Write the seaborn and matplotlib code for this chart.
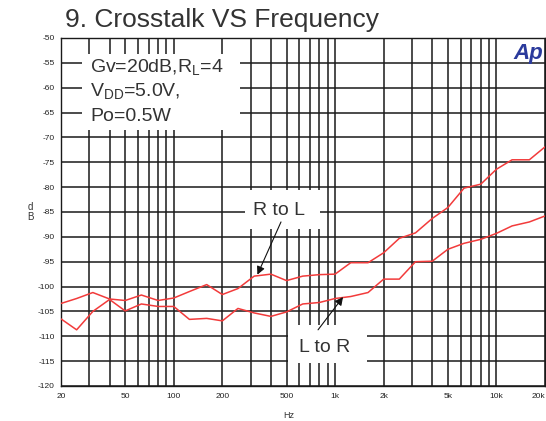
import numpy as np
import pandas as pd
import seaborn as sns
import matplotlib.pyplot as plt
from matplotlib.patches import Rectangle
from matplotlib.ticker import FixedLocator, NullFormatter

# --- dados ---
freq = [20, 25, 31.5, 40, 50, 63, 80, 100, 125, 160, 200, 250, 315, 400, 500, 630,
        800, 1000, 1250, 1600, 2000, 2500, 3150, 4000, 5000, 6300, 8000, 10000,
        12500, 16000, 20000]
r_to_l = [-103.4, -102.4, -101.2, -102.5, -102.8, -101.7, -102.8, -102.3, -101.0, -99.6,
          -101.6, -100.4, -97.9, -97.5, -98.8, -97.9, -97.6, -97.5, -95.2, -95.2, -93.2,
          -90.3, -89.2, -86.3, -84.1, -80.2, -79.4, -76.4, -74.5, -74.5, -71.9]
l_to_r = [-106.5, -108.7, -105.0, -102.6, -104.9, -103.5, -104.0, -104.0, -106.6, -106.4,
          -106.9, -104.4, -105.3, -106.0, -105.1, -103.5, -103.2, -102.4, -102.0, -101.2,
          -98.5, -98.5, -95.0, -94.9, -92.5, -91.3, -90.5, -89.3, -87.8, -87.0, -85.8]

x_labels = {20: "20", 50: "50", 100: "100", 200: "200", 500: "500", 1000: "1k",
            2000: "2k", 5000: "5k", 10000: "10k", 20000: "20k"}
y_ticks = list(range(-120, -45, 5))

df = pd.concat([
    pd.DataFrame({"Hz": freq, "dB": r_to_l, "serie": "R to L"}),
    pd.DataFrame({"Hz": freq, "dB": l_to_r, "serie": "L to R"}),
])

sns.set_style("white")
plt.rcParams['font.family'] = ['Liberation Sans', 'DejaVu Sans']
plt.rcParams['axes.unicode_minus'] = False

fig = plt.figure(figsize=(5.46, 4.21), dpi=100)
ax = fig.add_axes([61 / 546, 1 - 386 / 421, 484 / 546, 348 / 421])
ax.set_xscale('log')
ax.set_axisbelow(True)

sns.lineplot(data=df, x="Hz", y="dB", hue="serie", palette=["#f23b3b", "#f23b3b"],
             linewidth=1.1, legend=False, ax=ax, zorder=3)

# grade log: todas as linhas 2..9 de cada década
grid_x = [m * 10 ** e for e in range(1, 5) for m in range(1, 10) if 20 <= m * 10 ** e <= 20000]
ax.xaxis.set_major_locator(FixedLocator(grid_x))
ax.set_xticklabels([x_labels.get(round(v), "") for v in grid_x])
ax.xaxis.set_minor_formatter(NullFormatter())
ax.set_xlim(20, 20000)
ax.set_ylim(-120, -50)
ax.set_yticks(y_ticks)
ax.set_yticklabels([str(v) for v in y_ticks])
ax.set_yticks(range(-120, -49), minor=True)
ax.grid(True, which='major', color='#1a1a1a', linewidth=1.1)

ax.tick_params(axis='x', length=0, labelsize=6, colors='#222', pad=5)
ax.tick_params(axis='y', which='major', length=4, direction='out', labelsize=6,
               colors='#222', pad=0.5)
ax.tick_params(axis='y', which='minor', length=4, direction='inout', color='#222', width=0.7)
ax.tick_params(axis='x', which='minor', length=0)
ax.get_xticklabels()[-1].set_ha('right')
for s in ax.spines.values():
    s.set_color('#1a1a1a')
    s.set_linewidth(1.0)
ax.set_xlabel("")
ax.set_ylabel("")

# caixas brancas que escondem a grade
for x0, x1, y0, y1 in [(0.043, 0.370, 0.736, 0.954),
                       (0.380, 0.535, 0.451, 0.563),
                       (0.469, 0.632, 0.066, 0.175)]:
    ax.add_patch(Rectangle((x0, y0), x1 - x0, y1 - y0, transform=ax.transAxes,
                           facecolor='white', edgecolor='none', zorder=1))

txt = dict(transform=ax.transAxes, fontsize=14, color='#333333', va='center', zorder=4)
ax.text(0.060, 0.914, r"Gv=20dB,R$_\mathregular{L}$=4", **txt)
ax.text(0.060, 0.845, r"V$_\mathregular{DD}$=5.0V,", **txt)
ax.text(0.060, 0.773, "Po=0.5W", **txt)
ax.text(0.450, 0.503, "R to L", ha='center', **txt)
ax.text(0.545, 0.112, "L to R", ha='center', **txt)

arrow = dict(arrowstyle='-|>', color='#111', lw=0.8, mutation_scale=12, shrinkA=0, shrinkB=0)
ax.annotate("", xy=(330, -97.6), xytext=(462, -87.0), arrowprops=arrow, zorder=4)
ax.annotate("", xy=(1120, -102.1), xytext=(784, -108.7), arrowprops=arrow, zorder=4)

ax.text(0.996, 0.955, "Ap", transform=ax.transAxes, ha='right', va='center',
        fontsize=16, fontweight='bold', fontstyle='italic', color='#2b3a9c', zorder=4)

fig.text(65 / 546, 1 - 27 / 421, "9. Crosstalk VS Frequency", fontsize=19,
         color='#333333', va='baseline', ha='left')
fig.text(30 / 546, 1 - 212 / 421, "d\nB", fontsize=7, color='#333', ha='center',
         va='center', linespacing=1.1)
fig.text(289 / 546, 1 - 415 / 421, "Hz", fontsize=6.5, color='#333', ha='center', va='center')

fig.savefig("out.png", dpi=100)
